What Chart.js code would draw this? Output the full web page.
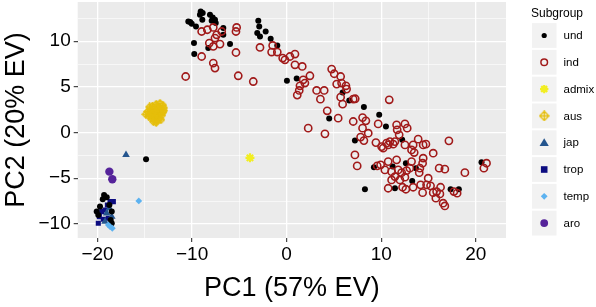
<!DOCTYPE html>
<html><head><meta charset="utf-8">
<script src="https://cdn.jsdelivr.net/npm/chart.js@4.4.0/dist/chart.umd.min.js"></script>
<style>html,body{margin:0;padding:0;background:#fff;}#wrap{width:596px;height:307px;position:relative;}</style>
</head><body><div id="wrap"><canvas id="c" width="596" height="307"></canvas></div>
<script>
// ---- axis settings / tick labels ----
const xTicks = [-20, -15, -10, -5, 0, 5, 10, 15, 20];
const yTicks = [-10, -7.5, -5, -2.5, 0, 2.5, 5, 7.5, 10, 12.5];
const xRange = [-22.1, 23.2];
const yRange = [-11.55, 14.3];
const xTitle = 'PC1 (57% EV)';
const yTitle = 'PC2 (20% EV)';
const legendTitle = 'Subgroup';
const subgroups = ['und', 'ind', 'admix', 'aus', 'jap', 'trop', 'temp', 'aro'];

// ---- series values [PC1, PC2] ----
const und = [[-9.09,13.27],[-8.88,13.09],[-9.17,12.91],[-8.92,12.36],[-10.40,12.17],[-10.04,11.92],[-9.59,11.62],[-8.11,12.91],[-7.82,12.61],[-7.58,12.36],[-7.93,12.25],[-6.70,11.45],[-6.70,10.71],[-5.99,9.69],[-9.80,9.80],[-9.77,8.60],[-8.29,9.25],[-10.2,12.1],[-7.5,12.0],[-3.00,12.25],[-2.90,11.62],[-2.22,11.07],[-3.11,10.90],[-2.82,10.53],[-1.69,10.27],[-0.99,9.54],[0.03,5.67],[1.06,5.92],[4.50,1.54],[5.92,4.39],[6.62,3.51],[8.17,2.79],[9.79,1.94],[10.50,0.66],[7.22,-0.88],[12.22,-0.80],[12.61,-3.36],[11.21,-3.73],[13.67,-3.90],[13.28,-5.30],[11.45,-6.10],[17.34,-6.21],[18.21,-6.21],[20.61,-3.25],[8.28,-6.21],[9.23,-3.79],[-14.87,-2.92],[-19.31,-6.83],[-19.03,-7.08],[-19.45,-7.30],[-19.74,-8.11],[-20.09,-8.66],[-19.92,-9.02],[-18.50,-8.66],[-18.61,-9.57],[-18.50,-9.93],[-18.75,-7.93]];
const ind = [[-8.99,11.07],[-8.39,11.26],[-7.76,11.51],[-6.87,11.07],[-7.40,10.71],[-7.58,10.35],[-8.18,9.80],[-7.76,9.43],[-7.05,9.69],[-5.29,11.51],[-5.36,11.07],[-5.36,8.77],[-8.99,8.33],[-7.76,7.61],[-7.58,7.06],[-10.68,6.14],[-5.12,6.22],[-3.53,5.59],[-2.82,9.32],[-1.48,9.54],[-1.59,8.82],[-0.99,8.82],[-0.42,8.16],[-0.18,7.97],[0.35,8.33],[0.88,8.60],[0.88,7.42],[1.65,7.24],[2.46,6.22],[1.75,5.78],[1.41,5.12],[1.33,4.61],[1.12,4.10],[3.17,4.61],[3.97,4.61],[3.57,3.66],[4.76,6.95],[5.03,6.44],[5.71,6.14],[5.29,5.31],[5.81,5.42],[6.27,5.12],[6.34,4.76],[5.71,3.88],[5.92,3.11],[7.04,3.66],[7.25,3.70],[4.29,2.38],[5.45,1.58],[7.04,1.21],[8.03,1.64],[8.38,1.28],[10.85,3.59],[2.28,0.48],[4.05,-0.14],[8.03,0.48],[8.63,-0.07],[7.82,-0.50],[8.17,-0.88],[9.68,0.95],[9.44,-1.10],[11.63,0.84],[11.69,0.30],[10.57,-1.16],[10.92,-0.99],[7.22,-2.45],[7.46,-3.65],[9.58,-3.65],[9.94,-3.54],[10.04,-1.54],[12.51,0.95],[12.75,0.48],[11.90,-0.25],[11.45,-0.99],[10.21,-1.71],[10.74,-1.35],[11.27,-1.27],[12.51,-1.35],[13.38,-1.35],[13.91,-0.72],[14.44,-1.35],[14.73,-1.27],[13.21,-1.90],[13.49,-2.19],[15.50,-2.26],[17.16,-0.91],[14.44,-2.81],[14.38,-3.36],[13.21,-3.18],[11.63,-2.99],[10.74,-3.18],[10.39,-4.09],[11.10,-4.28],[11.80,-4.09],[12.16,-4.39],[12.69,-4.17],[13.03,-3.90],[14.09,-3.90],[14.02,-4.39],[11.45,-4.82],[11.98,-5.19],[12.51,-4.89],[11.10,-5.19],[10.74,-6.10],[12.26,-5.99],[12.61,-6.21],[13.38,-5.99],[14.17,-5.73],[14.97,-5.00],[14.80,-5.73],[15.22,-5.84],[16.28,-5.99],[14.38,-6.58],[15.50,-6.58],[15.78,-7.19],[16.55,-7.74],[16.73,-8.04],[16.13,-3.90],[16.73,-4.01],[18.85,-4.39],[17.69,-6.47],[18.03,-6.64],[21.14,-3.36],[20.86,-3.90],[15.86,-6.47],[16.21,-6.72],[1.93,5.42]];
const admix = [[-3.88,-2.77]];
const aus = [[-14.2,2.9],[-13.8,3.1],[-13.4,3.2],[-13.1,3.0],[-13.0,2.7],[-13.3,2.5],[-13.6,2.7],[-14.0,2.6],[-14.4,2.5],[-14.7,2.3],[-14.9,2.0],[-14.6,1.8],[-14.3,1.6],[-14.0,1.4],[-13.7,1.3],[-13.5,1.6],[-13.2,1.9],[-13.1,2.2],[-13.6,2.0],[-13.9,2.1],[-14.2,2.0],[-13.8,1.7],[-14.4,1.9],[-13.5,2.4],[-13.9,2.4],[-14.5,2.8],[-13.3,1.4],[-13.8,1.1],[-14.1,1.2],[-13.0,2.4]];
const jap = [[-16.99,-2.45],[-19.03,-8.84],[-18.75,-8.29],[-18.50,-9.21],[-19.21,-9.76]];
const trop = [[-18.68,-7.57],[-18.33,-7.57],[-19.21,-8.48],[-19.56,-8.66],[-19.81,-9.21],[-19.92,-9.93],[-18.86,-9.39],[-19.39,-9.50],[-18.96,-7.93]];
const temp = [[-15.64,-7.49],[-18.68,-10.31],[-18.44,-10.48],[-18.86,-10.12]];
const aro = [[-18.75,-4.28],[-18.44,-5.11]];

// ---- styles ----
const FONT = "'Liberation Sans', Arial, sans-serif";
const COL = {und:'#000000', ind:'#A11A1A', admix:'#F2EE22', aus:'#E5BE0B', jap:'#24558E', trop:'#0C0C80', temp:'#5CB2F0', aro:'#55239A'};

function ausIcon(size){
  const c = document.createElement('canvas'); c.width = size; c.height = size;
  const g = c.getContext('2d'); const m = size/2, r = size/2 - 0.8;
  g.strokeStyle = COL.aus; g.lineWidth = 1.3;
  g.beginPath(); g.moveTo(m, m-r); g.lineTo(m+r, m); g.lineTo(m, m+r); g.lineTo(m-r, m); g.closePath();
  g.moveTo(m, m-r); g.lineTo(m, m+r); g.moveTo(m-r, m); g.lineTo(m+r, m); g.stroke();
  return c;
}
const ausPt = ausIcon(9);
const ausLeg = ausIcon(11);

const toXY = a => a.map(p => ({x:p[0], y:p[1]}));
const fmt = v => (v < 0 ? '\u2212' + Math.abs(v) : String(v));

const datasets = [
  {label:'aro', data:toXY(aro), pointStyle:'circle', pointRadius:4.2, backgroundColor:COL.aro, borderColor:COL.aro, borderWidth:0},
  {label:'temp', data:toXY(temp), pointStyle:'rectRot', pointRadius:3.4, backgroundColor:COL.temp, borderColor:COL.temp, borderWidth:0},
  {label:'ind', data:toXY(ind), pointStyle:'circle', pointRadius:3.6, backgroundColor:'rgba(0,0,0,0)', borderColor:COL.ind, borderWidth:1.6},
  {label:'und', data:toXY(und), pointStyle:'circle', pointRadius:3, backgroundColor:COL.und, borderColor:COL.und, borderWidth:0},
  {label:'jap', data:toXY(jap), pointStyle:'triangle', pointRadius:4.4, backgroundColor:COL.jap, borderColor:COL.jap, borderWidth:0},
  {label:'trop', data:toXY(trop), pointStyle:'rect', pointRadius:3.6, backgroundColor:COL.trop, borderColor:COL.trop, borderWidth:0},
  {label:'admix', data:toXY(admix), pointStyle:'star', pointRadius:4.5, backgroundColor:COL.admix, borderColor:COL.admix, borderWidth:2.2},
  {label:'aus', data:toXY(aus), pointStyle:ausPt, pointRadius:4.5, backgroundColor:COL.aus, borderColor:COL.aus, borderWidth:1}
];

const panelBg = {
  id:'panelBg',
  beforeDraw(chart){
    const {ctx, chartArea:a} = chart;
    ctx.save(); ctx.fillStyle = '#EBEBEB';
    ctx.fillRect(a.left, a.top, a.right - a.left, a.bottom - a.top);
    ctx.restore();
  }
};

function legendSymbol(ctx, name, x, y){
  const c = COL[name];
  ctx.save(); ctx.fillStyle = c; ctx.strokeStyle = c;
  ctx.beginPath();
  switch(name){
    case 'und': ctx.arc(x, y, 2.6, 0, Math.PI*2); ctx.fill(); break;
    case 'ind': ctx.lineWidth = 1.5; ctx.arc(x, y, 3.3, 0, Math.PI*2); ctx.stroke(); break;
    case 'admix':
      ctx.lineWidth = 2.2;
      for (let i = 0; i < 4; i++){ const t = i*Math.PI/4; ctx.moveTo(x - 4.2*Math.cos(t), y - 4.2*Math.sin(t)); ctx.lineTo(x + 4.2*Math.cos(t), y + 4.2*Math.sin(t)); }
      ctx.stroke(); break;
    case 'aus': ctx.drawImage(ausLeg, x - 5.5, y - 5.5); break;
    case 'jap': ctx.moveTo(x, y - 4.4); ctx.lineTo(x + 4.6, y + 3.4); ctx.lineTo(x - 4.6, y + 3.4); ctx.closePath(); ctx.fill(); break;
    case 'trop': ctx.fillRect(x - 3.3, y - 3.3, 6.6, 6.6); break;
    case 'temp': ctx.moveTo(x, y - 3.4); ctx.lineTo(x + 3.4, y); ctx.lineTo(x, y + 3.4); ctx.lineTo(x - 3.4, y); ctx.closePath(); ctx.fill(); break;
    case 'aro': ctx.arc(x, y, 3.9, 0, Math.PI*2); ctx.fill(); break;
  }
  ctx.restore();
}

const ggLegend = {
  id:'ggLegend',
  afterDraw(chart){
    const ctx = chart.ctx;
    ctx.save();
    ctx.fillStyle = '#000'; ctx.font = '12px ' + FONT; ctx.textBaseline = 'middle'; ctx.textAlign = 'left';
    ctx.fillText(legendTitle, 531, 13.5);
    subgroups.forEach((name, i) => {
      const cy = 35.5 + i*26.8;
      ctx.fillStyle = '#F2F2F2';
      ctx.fillRect(532, cy - 12.4, 24.5, 24.8);
      legendSymbol(ctx, name, 544.2, cy);
      ctx.fillStyle = '#000'; ctx.font = '11.5px ' + FONT; ctx.textBaseline = 'middle';
      ctx.fillText(name, 563.5, cy + 0.5);
    });
    ctx.restore();
  }
};

const isMajor = (v) => Math.abs(v % 5) < 1e-9;
const isMajorX = (v) => Math.abs(v % 10) < 1e-9;

new Chart(document.getElementById('c'), {
  type:'scatter',
  data:{datasets},
  plugins:[panelBg, ggLegend],
  options:{
    responsive:false, animation:false, devicePixelRatio:1,
    layout:{autoPadding:false, padding:{top:2, right:90, bottom:0, left:0}},
    plugins:{legend:{display:false}, tooltip:{enabled:false}},
    scales:{
      x:{
        type:'linear', min:xRange[0], max:xRange[1],
        afterBuildTicks(s){ s.ticks = xTicks.map(v => ({value:v})); },
        afterFit(s){ s.height = 69; s.paddingLeft = 0; s.paddingRight = 0; },
        border:{display:false},
        grid:{
          color:'#FFFFFF',
          lineWidth:(c) => (c.tick && isMajorX(c.tick.value)) ? 1.3 : 0.6,
          tickColor:(c) => (c.tick && isMajorX(c.tick.value)) ? '#333333' : 'rgba(0,0,0,0)',
          tickLength:4, tickWidth:1.1
        },
        ticks:{
          autoSkip:false, maxRotation:0, padding:1, color:'#000',
          font:{family:FONT, size:19},
          callback:(v) => isMajorX(v) ? fmt(v) : ''
        },
        title:{display:true, text:xTitle, color:'#000', font:{family:FONT, size:27}, padding:{top:0, bottom:2}}
      },
      y:{
        type:'linear', min:yRange[0], max:yRange[1],
        afterBuildTicks(s){ s.ticks = yTicks.map(v => ({value:v})); },
        afterFit(s){ s.width = 77.7; s.paddingTop = 0; s.paddingBottom = 0; },
        border:{display:false},
        grid:{
          color:'#FFFFFF',
          lineWidth:(c) => (c.tick && isMajor(c.tick.value)) ? 1.3 : 0.6,
          tickColor:(c) => (c.tick && isMajor(c.tick.value)) ? '#333333' : 'rgba(0,0,0,0)',
          tickLength:4, tickWidth:1.1
        },
        ticks:{
          autoSkip:false, padding:3, color:'#000',
          font:{family:FONT, size:19},
          callback:(v) => isMajor(v) ? fmt(v) : ''
        },
        title:{display:true, text:yTitle, color:'#000', font:{family:FONT, size:27}, padding:{top:0, bottom:0}}
      }
    }
  }
});
</script>
</body></html>
